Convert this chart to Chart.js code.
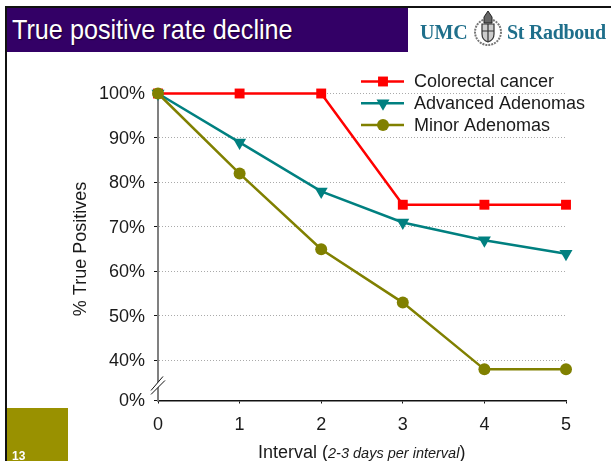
<!DOCTYPE html>
<html>
<head>
<meta charset="utf-8">
<title>True positive rate decline</title>
<script src="https://cdn.jsdelivr.net/npm/chart.js@4"></script>
<style>
  html, body { margin: 0; padding: 0; background: #fff; }
  body { width: 611px; height: 461px; position: relative; overflow: hidden; font-family: "Liberation Sans", Arial, sans-serif; color: #1a1a1a; }
  #chart { position: absolute; left: 0; top: 0; }
  .abs { position: absolute; }
  #frame-top { left: 5px; top: 6px; width: 606px; height: 2px; background: #111; }
  #frame-left { left: 5px; top: 6px; width: 2px; height: 455px; background: #111; }
  #banner { left: 7px; top: 8px; width: 401px; height: 44px; background: #330066; }
  #title { left: 12px; top: 14px; font-size: 28px; line-height: 32px; color: #fff; transform: scaleX(.9); transform-origin: left; text-shadow: 1px 1px 1px #1a0033; white-space: nowrap; }
  #logo { left: 420px; top: 20px; font: bold 20px/24px "Liberation Serif", serif; color: #1f6f8b; white-space: nowrap; }
  #logo2 { left: 507px; top: 20px; font: bold 20px/24px "Liberation Serif", serif; letter-spacing: -0.3px; color: #1f6f8b; white-space: nowrap; }
  #crest { left: 472px; top: 9px; }
  #page-box { left: 7px; top: 408px; width: 61px; height: 53px; background: #999100; }
  #page-no { left: 12px; top: 449px; font: bold 12px/14px "Liberation Sans", sans-serif; color: #fff; }
  #x-title { left: 258px; top: 441px; font-size: 18px; line-height: 22px; white-space: nowrap; }
  #x-title i { font-size: 14.5px; }
</style>
</head>
<body>
<canvas id="chart" width="611" height="461"></canvas>
<div class="abs" id="frame-top"></div>
<div class="abs" id="frame-left"></div>
<div class="abs" id="banner"></div>
<div class="abs" id="title">True positive rate decline</div>
<div class="abs" id="logo">UMC</div>
<svg class="abs" id="crest" width="32" height="38" viewBox="0 0 32 38">
  <circle cx="16" cy="23" r="13" fill="none" stroke="#777" stroke-width="2" stroke-dasharray="2 1"/>
  <path d="M10 15h12v10q0 6-6 8q-6-2-6-8z" fill="#ccc" stroke="#333" stroke-width="1.2"/>
  <path d="M16 15v18M10 22h12" stroke="#333" stroke-width="1.2"/>
  <path d="M12 14v-6l4-6l4 6v6z" fill="#666" stroke="#222"/>
</svg>
<div class="abs" id="logo2">St Radboud</div>
<div class="abs" id="page-box"></div>
<div class="abs" id="page-no">13</div>
<div class="abs" id="x-title">Interval (<i>2-3 days per interval</i>)</div>

<script>
const intervals = ['0', '1', '2', '3', '4', '5'];
const colorectal = [100, 100, 100, 75, 75, 75];
const advanced = [100, 89, 78, 71, 67, 64];
const minor = [100, 82, 65, 53, 38, 38];

// axis is broken below 40%, the 0% tick sits where 31 would be
const yTickValues = [31, 40, 50, 60, 70, 80, 90, 100];
const yTickLabels = ['0%', '40%', '50%', '60%', '70%', '80%', '90%', '100%'];

const seriesInfo = [
  { label: 'Colorectal cancer', data: colorectal, color: '#ff0000', style: 'rect', radius: 7, rotation: 0 },
  { label: 'Advanced Adenomas', data: advanced, color: '#008080', style: 'triangle', radius: 7.5, rotation: 180 },
  { label: 'Minor Adenomas', data: minor, color: '#808000', style: 'circle', radius: 6, rotation: 0 }
];

const textColor = '#1a1a1a';
const fontFamily = '"Liberation Sans"';

const extras = {
  id: 'extras',
  afterDraw(chart) {
    const c = chart.ctx;
    const y = chart.scales.y;
    const left = chart.chartArea.left;

    // axis break
    c.save();
    const yb = y.getPixelForValue(40) + 25;
    c.fillStyle = '#fff';
    c.beginPath();
    c.moveTo(left - 7, yb + 9);
    c.lineTo(left + 7, yb - 5);
    c.lineTo(left + 5, yb - 9);
    c.lineTo(left - 7, yb + 5);
    c.closePath();
    c.fill();
    c.strokeStyle = '#111';
    c.lineWidth = 1;
    c.beginPath();
    c.moveTo(left - 7, yb + 9);
    c.lineTo(left + 7, yb - 5);
    c.moveTo(left - 7, yb + 5);
    c.lineTo(left + 5, yb - 9);
    c.stroke();

    // y axis title
    c.save();
    c.translate(81, 249);
    c.rotate(-Math.PI / 2);
    c.textAlign = 'center';
    c.textBaseline = 'middle';
    c.font = '18px ' + fontFamily;
    c.fillStyle = textColor;
    c.fillText('% True Positives', 0, 0);
    c.restore();

    // legend
    c.textBaseline = 'middle';
    c.font = '18px ' + fontFamily;
    seriesInfo.forEach((s, i) => {
      const ly = 81.5 + i * 21.7;
      c.strokeStyle = s.color;
      c.lineWidth = 2.5;
      c.beginPath();
      c.moveTo(361, ly);
      c.lineTo(404, ly);
      c.stroke();
      c.fillStyle = s.color;
      Chart.helpers.drawPoint(c, { pointStyle: s.style, radius: s.radius, rotation: s.rotation, borderWidth: 0 }, 383, ly);
      c.fillStyle = textColor;
      c.fillText(s.label, 414, ly + 1);
    });
    c.restore();
  }
};

new Chart(document.getElementById('chart').getContext('2d'), {
  type: 'line',
  data: {
    labels: intervals,
    datasets: seriesInfo.map((s, i) => ({
      label: s.label,
      data: s.data,
      order: seriesInfo.length - i,
      borderColor: s.color,
      backgroundColor: s.color,
      borderWidth: 2.5,
      tension: 0,
      clip: false,
      pointStyle: s.style,
      pointRadius: s.radius,
      pointRotation: s.rotation,
      pointBorderWidth: 0
    }))
  },
  plugins: [extras],
  options: {
    responsive: false,
    animation: false,
    layout: { padding: { top: 93.5, right: 45 } },
    plugins: { legend: { display: false }, tooltip: { enabled: false } },
    scales: {
      x: {
        offset: false,
        grid: { drawOnChartArea: false, drawTicks: true, tickLength: 3, tickColor: '#111' },
        border: { color: '#111', width: 1.5 },
        ticks: { color: textColor, font: { family: fontFamily, size: 18 }, padding: 11, maxRotation: 0 },
        afterFit(scale) { scale.height = 60.5; }
      },
      y: {
        min: 31,
        max: 100,
        afterBuildTicks(scale) { scale.ticks = yTickValues.map(v => ({ value: v })); },
        grid: {
          color: ctx => ctx.tick.value === 31 ? 'transparent' : '#aaaaaa',
          tickColor: '#111',
          tickLength: 4,
          lineWidth: 1
        },
        border: { color: '#808080', width: 2, dash: [1, 2] },
        ticks: {
          color: textColor,
          padding: 9,
          labelOffset: 1,
          font: { family: fontFamily, size: 18 },
          callback: (v) => yTickLabels[yTickValues.indexOf(v)]
        },
        afterFit(scale) { scale.width = 158; }
      }
    }
  }
});
</script>
</body>
</html>
